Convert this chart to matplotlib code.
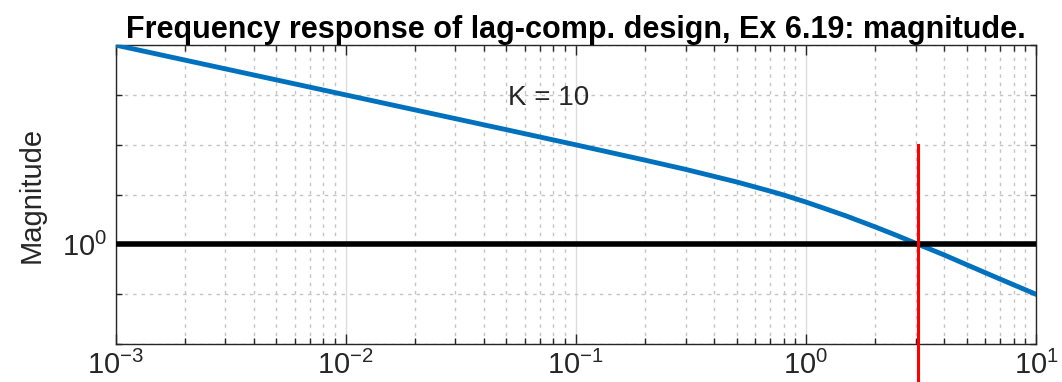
import math
import matplotlib
matplotlib.use('Agg')
import matplotlib.pyplot as plt
from matplotlib.ticker import LogLocator, FixedLocator, NullFormatter, FuncFormatter

plt.rcParams['font.family'] = ['Liberation Sans', 'DejaVu Sans']
plt.rcParams['mathtext.fontset'] = 'custom'
plt.rcParams['mathtext.rm'] = 'Liberation Sans'
plt.rcParams['mathtext.it'] = 'Liberation Sans'

# --- data: open-loop magnitude with K = 10 ---
freq = [0.001, 0.002, 0.005, 0.01, 0.02, 0.05, 0.1, 0.2, 0.3, 0.5, 0.7, 0.8,
        1.0, 1.2, 1.5, 2.0, 2.5, 3.0, 3.08, 4.0, 5.0, 7.0, 10.0]
mag = [10000, 5000, 2000, 1000, 500, 200, 99.5, 49.0, 32.0, 17.9, 11.7, 9.8,
       7.07, 5.3, 3.7, 2.24, 1.49, 1.05, 1.0, 0.61, 0.39, 0.20, 0.0995]
w_cross = 3.08          # gain crossover (rad/s)
unity = 1.0
gain_label = 'K = 10'

fig = plt.figure(figsize=(10.62, 3.82), dpi=100)
ax = fig.add_axes([0.1088, 0.0995, 0.8667, 0.7825])

ax.loglog(freq, mag, color='#0072BD', lw=3.5, zorder=3)
ax.axhline(unity, color='black', lw=4, zorder=4)
ax.plot([w_cross, w_cross], [100, 1e-3], color='red', lw=2.2, zorder=5, clip_on=False)
ax.text(0.0508, 871, gain_label, fontsize=20, ha='left', va='center', color='#262626')

ax.set_xlim(1e-3, 1e1)
ax.set_ylim(1e-2, 1e4)

def dec_label(v, pos):
    return r'$10^{\mathregular{%d}}$' % round(math.log10(v))

# x: decades labelled, minor ticks 2..9
ax.xaxis.set_major_locator(LogLocator(base=10, numticks=10))
ax.xaxis.set_minor_locator(LogLocator(base=10, subs=range(2, 10), numticks=20))
ax.xaxis.set_minor_formatter(NullFormatter())
ax.xaxis.set_major_formatter(FuncFormatter(dec_label))

# y: only 10^0 labelled, other decades as minor ticks
ax.yaxis.set_major_locator(FixedLocator([1.0]))
ax.yaxis.set_minor_locator(FixedLocator([1e-2, 1e-1, 1e1, 1e2, 1e3, 1e4]))
ax.yaxis.set_minor_formatter(NullFormatter())
ax.yaxis.set_major_formatter(FuncFormatter(dec_label))

ax.tick_params(which='both', direction='in', top=True, right=True, colors='#262626',
               labelsize=21, width=1.0)
ax.tick_params(which='major', length=7)
ax.tick_params(which='minor', length=4)
ax.tick_params(axis='x', pad=5)
ax.tick_params(axis='y', pad=6)

ax.grid(True, which='major', color='#dcdcdc', lw=1.0, ls='-')
ax.grid(True, which='minor', color='#c4c4c4', lw=1.0, ls=(0, (2.5, 3.5)))
ax.set_axisbelow(True)
for s in ax.spines.values():
    s.set_color('#262626')
    s.set_linewidth(1.0)

ax.set_ylabel('Magnitude', fontsize=21, color='#262626', labelpad=12)
ax.set_title('Frequency response of lag-comp. design, Ex 6.19: magnitude.',
             fontsize=22, fontweight='bold', pad=5)

fig.savefig('out.png', dpi=100)
